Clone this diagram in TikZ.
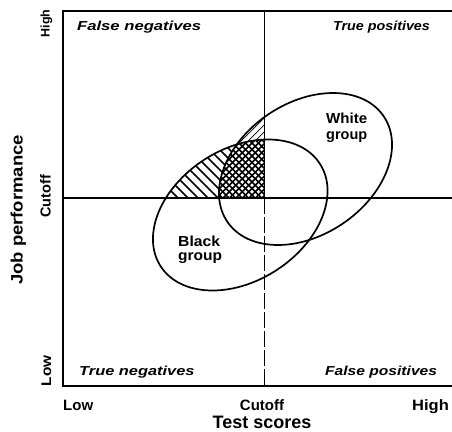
\documentclass[tikz,border=0pt]{standalone}
\usepackage{fontspec}
\setmainfont{Liberation Sans}
\usepackage{graphicx}
\newcommand{\sx}[2]{\scalebox{#1}[1]{#2}}
\begin{document}
\begin{tikzpicture}[x=1pt,y=-1pt,
  blk/.style={shift={(240.25,215)},rotate=32.7},
  wht/.style={shift={(305.5,169)},rotate=33.9},
  frame/.style={line width=2pt},
  ell/.style={line width=1.7pt},
  quad/.style={inner sep=0pt, anchor=base west, font=\bfseries\itshape\fontsize{13}{13}\selectfont},
  grp/.style={inner sep=0pt, anchor=base west, font=\bfseries\fontsize{14.5}{14.5}\selectfont},
  axl/.style={inner sep=0pt, font=\bfseries\fontsize{15}{15}\selectfont},
  yax/.style={inner sep=0pt, anchor=base, rotate=90}
]
\useasboundingbox (0,0) rectangle (452,431);
\coordinate (TL) at (63,11);
\coordinate (TR) at (452,11);
\coordinate (BL) at (63,386);
\coordinate (BR) at (452,386);
\coordinate (ML) at (63,198);
\coordinate (MR) at (452,198);
\coordinate (VT) at (264,11);
\coordinate (VM) at (264,198);
\coordinate (VB) at (264,386);

% black-only hatch
\begin{scope}
\clip (TL) rectangle (VM);
\clip[blk] (0,0) ellipse [x radius=94.7pt, y radius=66pt];
\foreach \c in {-60,-50,...,180} \draw[line width=1.6pt] (\c+60,60) -- (\c+220,220);
\end{scope}
% white-only hatch
\begin{scope}
\clip (TL) rectangle (VM);
\clip[wht] (0,0) ellipse [x radius=94.3pt, y radius=66.1pt];
\fill[white] (TL) rectangle (VM);
\foreach \c in {200,207,...,480} \draw[line width=0.7pt] (\c-60,60) -- (\c-220,220);
\end{scope}
% overlap crosshatch
\begin{scope}
\clip (TL) rectangle (VM);
\clip[wht] (0,0) ellipse [x radius=94.3pt, y radius=66.1pt];
\clip[blk] (0,0) ellipse [x radius=94.7pt, y radius=66pt];
\fill[white] (TL) rectangle (VM);
\foreach \c in {-60,-53.5,...,180} \draw[line width=1.5pt] (\c+60,60) -- (\c+220,220);
\foreach \c in {200,206.5,...,480} \draw[line width=1.5pt] (\c-60,60) -- (\c-220,220);
\end{scope}

% frame and cutoffs
\draw[frame] (TR) -- (TL) -- (BL) -- (BR);
\draw[frame] (ML) -- (MR);
\draw[line width=1pt] (VT) -- (VM);
\draw[line width=1pt, dash pattern=on 16pt off 3pt] (VM) -- (VB);

% ellipses
\draw[ell, blk] (0,0) ellipse [x radius=94.7pt, y radius=66pt];
\draw[ell, wht] (0,0) ellipse [x radius=94.3pt, y radius=66.1pt];

% quadrant labels
\node[quad] (fn) at (77,30.5) {\sx{1.28}{False negatives}};
\node[quad] (tp) at (333,30.5) {\sx{1.10}{True positives}};
\node[quad] (tn) at (79,375.5) {\sx{1.26}{True negatives}};
\node[quad] (fp) at (325,375.5) {\sx{1.20}{False positives}};

% group labels
\node[grp] (w1) at (326,123.3) {\sx{1.04}{White}};
\node[grp] (w2) at (326,139) {group};
\node[grp] (b1) at (178,246.7) {\sx{1.085}{Black}};
\node[grp] (b2) at (178,260.8) {\sx{1.07}{group}};

% y axis
\node[yax, font=\bfseries\fontsize{16.5}{16.5}\selectfont] (jp) at (22.5,210) {\sx{1.12}{Job performance}};
\node[yax, font=\bfseries\fontsize{14.5}{14.5}\selectfont] (ycut) at (50.5,196.5) {Cutoff};
\node[yax, font=\bfseries\fontsize{12.5}{12.5}\selectfont] (yhigh) at (49.5,23.5) {High};
\node[yax, font=\bfseries\fontsize{14}{14}\selectfont] (ylow) at (51,371) {\sx{1.1}{Low}};

% x axis
\node[axl, anchor=base west] (xlow) at (63,410.5) {Low};
\node[axl, anchor=base] (xcut) at (262,410.5) {Cutoff};
\node[axl, anchor=base west] (xhigh) at (412,410.5) {\sx{1.1}{High}};
\node[inner sep=0pt, anchor=base, font=\bfseries\fontsize{18}{18}\selectfont] (ts) at (262,428) {Test scores};
\end{tikzpicture}
\end{document}
